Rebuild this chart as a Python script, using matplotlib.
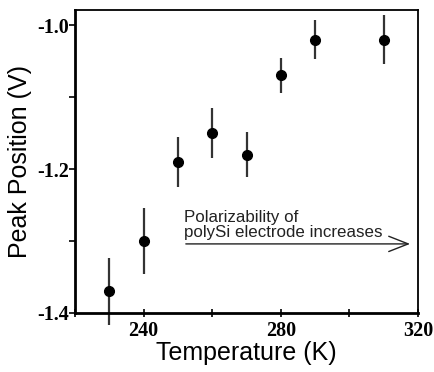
import matplotlib.pyplot as plt
from matplotlib.ticker import MultipleLocator

# data
temps = [230, 240, 250, 260, 270, 280, 290, 310]
peak = [-1.37, -1.30, -1.19, -1.15, -1.18, -1.07, -1.02, -1.02]
err = [0.046, 0.046, 0.035, 0.035, 0.031, 0.025, 0.027, 0.034]
x_ticks = [240, 280, 320]
y_ticks = [-1.4, -1.2, -1.0]

fig = plt.figure(figsize=(4.35, 3.72), dpi=100)
ax = fig.add_axes([75 / 435, 59 / 372, 343 / 435, 303 / 372])

ax.errorbar(temps, peak, yerr=err, fmt='o', color='black', ecolor='#333333',
            markersize=7, elinewidth=1.6, capsize=0, clip_on=False)

ax.set_xlim(220, 320)
ax.set_ylim(-1.4, -0.979)
ax.set_xticks(x_ticks)
ax.set_yticks(y_ticks)
ax.set_yticklabels(['-1.4', '-1.2', '-1.0'])
ax.xaxis.set_minor_locator(MultipleLocator(20))
ax.yaxis.set_minor_locator(MultipleLocator(0.1))

serif_bold = dict(family='Liberation Serif', weight='bold', size=14.5)
for lab in ax.get_xticklabels() + ax.get_yticklabels():
    lab.set_fontproperties(serif_bold)

ax.tick_params(axis='y', which='both', direction='out', length=4, width=1.2, pad=0)
ax.tick_params(axis='x', which='both', direction='inout', length=6, width=1.2, pad=3)

for side in ['left', 'bottom']:
    ax.spines[side].set_linewidth(2.0)
for side in ['top', 'right']:
    ax.spines[side].set_linewidth(1.3)

ax.set_xlabel('Temperature (K)', family='Liberation Sans', fontsize=18, labelpad=0)
ax.set_ylabel('Peak Position (V)', family='Liberation Sans', fontsize=18, labelpad=4)

ax.annotate('', xy=(318.5, -1.304), xytext=(251.5, -1.304),
            arrowprops=dict(arrowstyle='->,head_length=1.4,head_width=0.55',
                            color='#222222', lw=1.0))
ax.text(251.8, -1.298, 'Polarizability of\npolySi electrode increases',
        family='Liberation Sans', fontsize=12.2, ha='left', va='bottom',
        linespacing=1.0, color='#222222')

fig.savefig('out.png', dpi=100)
